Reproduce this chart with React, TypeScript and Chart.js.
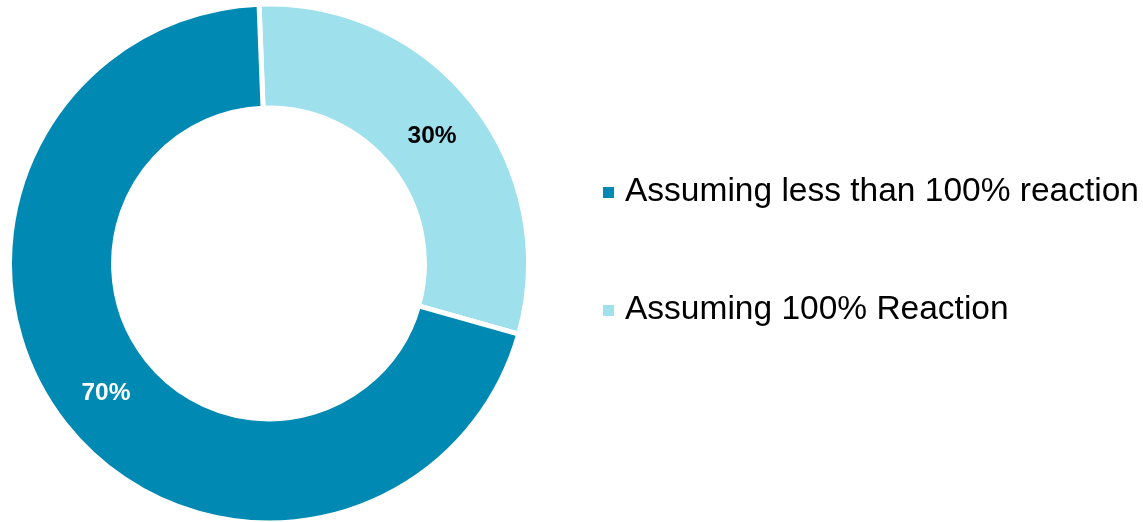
import React, { useEffect, useRef } from "react";
import { Chart, registerables } from "chart.js";

Chart.register(...registerables);

const categories = ["Assuming 100% Reaction", "Assuming less than 100% reaction"];
const values = [30, 70];
const valueLabels = ["30%", "70%"];
const sliceColors = ["#9EE0EC", "#0089B3"];
const labelColors = ["#000000", "#FFFFFF"];
const legendOrder = [1, 0];

const FONT = "Arial, 'Liberation Sans', sans-serif";

const sliceLabelPlugin = {
  id: "sliceLabels",
  afterDatasetsDraw(chart: any) {
    const ctx = chart.ctx;
    const meta = chart.getDatasetMeta(0);
    ctx.save();
    ctx.font = `bold 24.5px ${FONT}`;
    ctx.textAlign = "center";
    ctx.textBaseline = "middle";
    meta.data.forEach((arc: any, i: number) => {
      const p = arc.tooltipPosition();
      ctx.fillStyle = labelColors[i];
      ctx.fillText(valueLabels[i], p.x, p.y + 1);
    });
    ctx.restore();
  },
};

const legendPlugin = {
  id: "customLegend",
  afterDraw(chart: any) {
    const ctx = chart.ctx;
    ctx.save();
    ctx.font = `33.5px ${FONT}`;
    ctx.textAlign = "left";
    ctx.textBaseline = "alphabetic";
    const x0 = 603;
    const baseY = 201;
    const gap = 118;
    legendOrder.forEach((idx, row) => {
      const by = baseY + row * gap;
      ctx.fillStyle = sliceColors[idx];
      ctx.fillRect(x0, by - 14, 11, 11);
      ctx.fillStyle = "#000000";
      ctx.fillText(categories[idx], x0 + 22, by);
    });
    ctx.restore();
  },
};

export default function App() {
  const ref = useRef<HTMLCanvasElement | null>(null);
  useEffect(() => {
    if (!ref.current) return;
    const chart = new Chart(ref.current, {
      type: "doughnut",
      data: {
        labels: categories,
        datasets: [
          {
            data: values,
            backgroundColor: sliceColors,
            borderColor: "#FFFFFF",
            borderWidth: 5,
          },
        ],
      },
      options: {
        responsive: false,
        animation: false,
        rotation: -2.2,
        radius: 259.5,
        cutout: "59.9%",
        layout: { padding: { top: 5, bottom: 0, left: 0, right: 605 } },
        plugins: {
          legend: { display: false },
          tooltip: { enabled: false },
        },
      },
      plugins: [sliceLabelPlugin, legendPlugin],
    });
    return () => chart.destroy();
  }, []);
  return (
    <canvas
      ref={ref}
      width={1143}
      height={522}
      style={{ position: "absolute", left: 0, top: 0, width: 1143, height: 522 }}
    />
  );
}
